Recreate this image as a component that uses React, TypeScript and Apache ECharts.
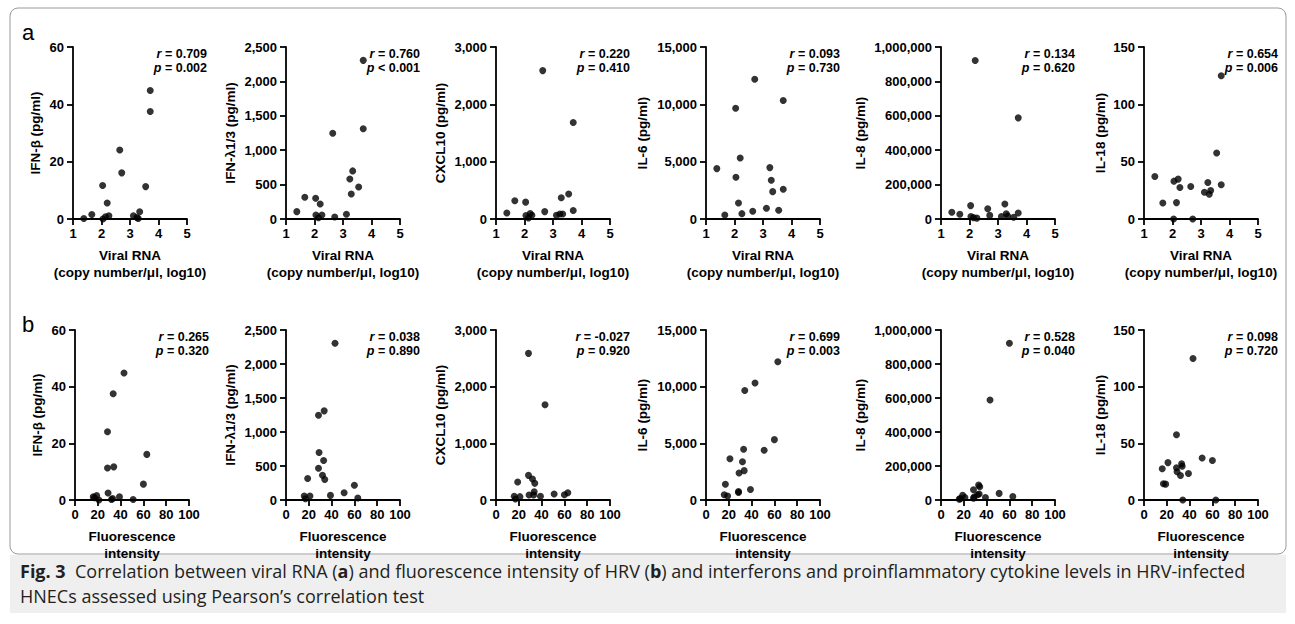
import React, { useEffect, useRef } from "react";
import * as echarts from "echarts";

// ---- data (16 samples, same order in every array) ----
const viralRNA = [1.38, 1.66, 2.04, 2.05, 2.14, 2.2, 2.26, 2.64, 2.71, 3.12, 3.24, 3.29, 3.34, 3.55, 3.71, 3.71];
const fluorescence = [51, 19, 34, 21, 17, 60, 16, 28.5, 63, 39, 33, 32, 29, 28.5, 43, 33.5];
const ifnBeta = [0.2, 1.6, 11.7, 0, 0.8, 5.6, 1.1, 24.1, 16.1, 1.1, 0.5, 0.2, 2.5, 11.3, 44.8, 37.5];
const ifnLambda = [107, 316, 301, 58, 19, 218, 58, 1247, 29, 68, 582, 364, 699, 466, 2306, 1311];
const cxcl10 = [106, 318, 294, 59, 18, 94, 65, 2588, 129, 65, 88, 371, 88, 435, 1682, 147];
const il6 = [4394, 349, 9661, 3638, 1397, 5326, 466, 669, 12193, 931, 4481, 3376, 2386, 757, 10330, 2590];
const il8 = [38900, 27200, 77800, 15000, 8000, 922000, 5000, 60000, 21000, 15000, 87500, 31000, 17000, 10000, 588000, 35000];
const il18 = [37.1, 14.0, 0, 33.0, 14.3, 34.8, 27.5, 28.4, 0, 23.4, 31.9, 21.6, 24.9, 57.6, 124.9, 29.8];

const cytokines = [ifnBeta, ifnLambda, cxcl10, il6, il8, il18];
const cytokineNames = ["IFN-β (pg/ml)", "IFN-λ1/3 (pg/ml)", "CXCL10 (pg/ml)", "IL-6 (pg/ml)", "IL-8 (pg/ml)", "IL-18 (pg/ml)"];
const yMax = [60, 2500, 3000, 15000, 1000000, 150];
const yInterval = [20, 500, 1000, 5000, 200000, 50];

const rViral = ["0.709", "0.760", "0.220", "0.093", "0.134", "0.654"];
const pViral = ["= 0.002", "< 0.001", "= 0.410", "= 0.730", "= 0.620", "= 0.006"];
const rFluor = ["0.265", "0.038", "-0.027", "0.699", "0.528", "0.098"];
const pFluor = ["= 0.320", "= 0.890", "= 0.920", "= 0.003", "= 0.040", "= 0.720"];

const viralAxis = { min: 1, max: 5, interval: 1, name: "Viral RNA\n(copy number/μl, log10)" };
const fluorAxis = { min: 0, max: 100, interval: 20, name: "Fluorescence\nintensity" };

const captionLine1 =
  "{b|Fig. 3}  Correlation between viral RNA ({b|a}) and fluorescence intensity of HRV ({b|b}) and interferons and proinflammatory cytokine levels in HRV-infected";
const captionLine2 = "HNECs assessed using Pearson’s correlation test";

// ---- layout ----
const FONT = "'Liberation Sans', Arial, Helvetica, sans-serif";
const CAPFONT = "'Open Sans', 'Noto Sans', sans-serif";
const panelLeft = [73, 286, 496, 706, 941, 1144];
const plotW = 114;
const rowTop = [47, 330];
const plotH = [172, 170];
const yNameGap = [31, 49, 49, 57, 74, 37];

function fmt(v: number) {
  return v.toLocaleString("en-US");
}

export default function App() {
  const ref = useRef<HTMLDivElement>(null);

  useEffect(() => {
    if (!ref.current) return;
    const chart = echarts.init(ref.current, null, { renderer: "svg" });

    const grids: any[] = [];
    const xAxes: any[] = [];
    const yAxes: any[] = [];
    const series: any[] = [];
    const graphics: any[] = [];

    graphics.push({
      type: "rect",
      shape: { x: 10, y: 8, width: 1276, height: 546, r: 8 },
      style: { fill: "none", stroke: "#9a9a9a", lineWidth: 1 },
    });
    graphics.push({
      type: "rect",
      shape: { x: 10, y: 555, width: 1276, height: 58 },
      style: { fill: "#efefef", stroke: "none" },
    });

    for (let row = 0; row < 2; row++) {
      const xs = row === 0 ? viralRNA : fluorescence;
      const xa = row === 0 ? viralAxis : fluorAxis;
      for (let c = 0; c < 6; c++) {
        const idx = row * 6 + c;
        const left = row === 1 && c === 0 ? panelLeft[c] + 2 : panelLeft[c];
        grids.push({ left, top: rowTop[row], width: plotW, height: plotH[row] });
        xAxes.push({
          gridIndex: idx,
          type: "value",
          min: xa.min,
          max: xa.max,
          interval: xa.interval,
          axisLine: { show: true, onZero: false, lineStyle: { color: "#000", width: 1.8 } },
          axisTick: { show: true, length: 6, lineStyle: { color: "#000", width: 1.8 } },
          axisLabel: { color: "#000", fontSize: 13, fontWeight: "bold", fontFamily: FONT, margin: 8 },
          splitLine: { show: false },
          name: xa.name,
          nameLocation: "middle",
          nameGap: 28,
          nameTextStyle: { color: "#000", fontSize: 13.5, fontWeight: "bold", fontFamily: FONT, lineHeight: 17 },
        });
        yAxes.push({
          gridIndex: idx,
          type: "value",
          min: 0,
          max: yMax[c],
          interval: yInterval[c],
          axisLine: { show: true, lineStyle: { color: "#000", width: 1.8 } },
          axisTick: { show: true, length: 6, lineStyle: { color: "#000", width: 1.8 } },
          axisLabel: { color: "#000", fontSize: 13, fontWeight: "bold", fontFamily: FONT, margin: 9, formatter: fmt },
          splitLine: { show: false },
          name: cytokineNames[c],
          nameLocation: "middle",
          nameGap: yNameGap[c],
          nameTextStyle: { color: "#000", fontSize: 13.5, fontWeight: "bold", fontFamily: FONT },
        });
        series.push({
          type: "scatter",
          xAxisIndex: idx,
          yAxisIndex: idx,
          symbol: "circle",
          symbolSize: 7,
          clip: false,
          itemStyle: { color: "#000" },
          data: xs.map((x, i) => [x, cytokines[c][i]]),
        });
        const rs = row === 0 ? rViral : rFluor;
        const ps = row === 0 ? pViral : pFluor;
        const right = left + plotW + 20;
        const rich = { i: { fontStyle: "italic", fontWeight: "bold", fontSize: 12.5, fontFamily: FONT, fill: "#000" } };
        graphics.push({
          type: "text",
          x: right,
          y: rowTop[row] + 7,
          style: {
            text: "{i|r} = " + rs[c],
            align: "right",
            verticalAlign: "middle",
            fill: "#000",
            fontSize: 12.5,
            fontWeight: "bold",
            fontFamily: FONT,
            rich,
          },
        });
        graphics.push({
          type: "text",
          x: right,
          y: rowTop[row] + 21,
          style: {
            text: "{i|p} " + ps[c],
            align: "right",
            verticalAlign: "middle",
            fill: "#000",
            fontSize: 12.5,
            fontWeight: "bold",
            fontFamily: FONT,
            rich,
          },
        });
      }
    }

    graphics.push({
      type: "text",
      x: 22,
      y: 43,
      style: { text: "a", fontSize: 22, fontFamily: FONT, fill: "#000", verticalAlign: "bottom" },
    });
    graphics.push({
      type: "text",
      x: 22,
      y: 335,
      style: { text: "b", fontSize: 22, fontFamily: FONT, fill: "#000", verticalAlign: "bottom" },
    });
    const capRich = { b: { fontWeight: "bold", fontSize: 18, fontFamily: CAPFONT, fill: "#231f20" } };
    graphics.push({
      type: "text",
      x: 20,
      y: 571,
      style: {
        text: captionLine1,
        fontSize: 18,
        fontFamily: CAPFONT,
        fill: "#231f20",
        verticalAlign: "middle",
        rich: capRich,
      },
    });
    graphics.push({
      type: "text",
      x: 20,
      y: 596,
      style: {
        text: captionLine2,
        fontSize: 18,
        fontFamily: CAPFONT,
        fill: "#231f20",
        verticalAlign: "middle",
      },
    });

    chart.setOption({
      animation: false,
      backgroundColor: "#fff",
      grid: grids,
      xAxis: xAxes,
      yAxis: yAxes,
      series,
      graphic: graphics,
    });

    return () => chart.dispose();
  }, []);

  return <div ref={ref} style={{ position: "absolute", left: 0, top: 0, width: 1295, height: 624 }} />;
}
